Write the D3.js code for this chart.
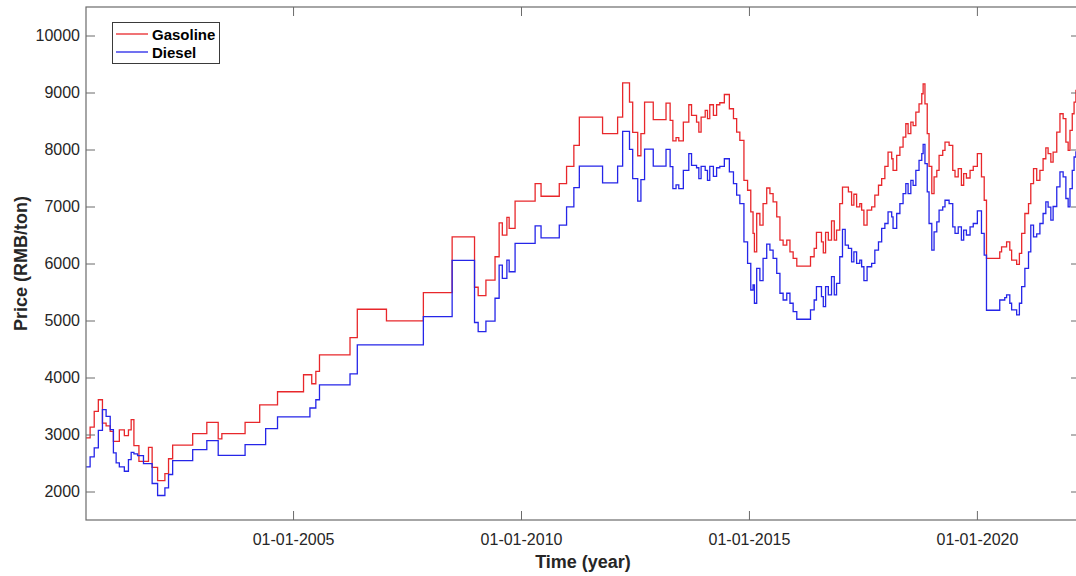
<!DOCTYPE html>
<html>
<head>
<meta charset="utf-8">
<script src="https://cdn.jsdelivr.net/npm/d3@7"></script>
<style>
  html, body { margin: 0; padding: 0; background: #fff; }
  svg { display: block; }
  text { font-family: "Liberation Sans", Arial, Helvetica, sans-serif; }
</style>
</head>
<body>
<svg id="chart" width="1076" height="576"></svg>
<script>
// ---- data (decimal years of price adjustments, prices in RMB/ton) ----
const years = [
2000.46, 2000.55, 2000.64, 2000.73, 2000.82, 2000.90, 2000.99, 2001.06, 2001.12, 2001.19,
2001.30, 2001.39, 2001.45, 2001.51, 2001.59, 2001.62, 2001.72, 2001.83, 2001.91, 2002.03,
2002.19, 2002.27, 2002.36, 2002.80, 2003.11, 2003.36, 2003.44, 2003.95, 2004.27, 2004.40,
2004.66, 2005.23, 2005.37, 2005.41, 2005.50, 2005.58, 2006.25, 2006.41, 2007.05, 2007.86,
2008.49, 2008.98, 2009.06, 2009.23, 2009.43, 2009.52, 2009.59, 2009.69, 2009.74, 2009.87,
2010.31, 2010.44, 2010.84, 2011.00, 2011.16, 2011.28, 2011.79, 2012.12, 2012.23, 2012.38,
2012.45, 2012.56, 2012.63, 2012.71, 2012.90, 2013.18, 2013.27, 2013.33, 2013.40, 2013.46,
2013.56, 2013.68, 2013.74, 2013.85, 2013.90, 2013.95, 2014.04, 2014.09, 2014.14, 2014.22,
2014.29, 2014.36, 2014.46, 2014.57, 2014.66, 2014.73, 2014.80, 2014.89, 2014.97, 2015.04,
2015.09, 2015.12, 2015.17, 2015.24, 2015.31, 2015.39, 2015.46, 2015.53, 2015.61, 2015.68,
2015.75, 2015.83, 2015.90, 2015.97, 2016.05, 2016.35, 2016.43, 2016.48, 2016.59, 2016.63,
2016.68, 2016.74, 2016.81, 2016.87, 2016.92, 2016.99, 2017.05, 2017.11, 2017.18, 2017.25,
2017.30, 2017.36, 2017.43, 2017.47, 2017.52, 2017.59, 2017.69, 2017.76, 2017.84, 2017.91,
2017.98, 2018.05, 2018.13, 2018.16, 2018.24, 2018.31, 2018.38, 2018.44, 2018.49, 2018.55,
2018.60, 2018.66, 2018.73, 2018.79, 2018.82, 2018.86, 2018.91, 2018.95, 2019.01, 2019.06,
2019.12, 2019.17, 2019.25, 2019.30, 2019.39, 2019.47, 2019.52, 2019.59, 2019.66, 2019.71,
2019.77, 2019.85, 2019.92, 2020.01, 2020.10, 2020.16, 2020.21, 2020.50, 2020.54, 2020.61,
2020.65, 2020.72, 2020.76, 2020.87, 2020.93, 2020.98, 2021.05, 2021.13, 2021.18, 2021.24,
2021.31, 2021.38, 2021.45, 2021.51, 2021.56, 2021.62, 2021.67, 2021.75, 2021.82, 2021.89,
2021.95, 2022.00, 2022.04, 2022.09, 2022.13, 2022.17
];

const gasoline = [
2940, 3130, 3405, 3610, 3200, 3150, 3055, 2880, 2880, 3080,
2980, 3080, 3260, 2805, 2805, 2530, 2530, 2775, 2425, 2190,
2315, 2575, 2815, 3015, 3213, 2922, 3015, 3213, 3520, 3520,
3750, 4048, 4048, 3890, 4107, 4397, 4700, 5197, 4993, 5488,
6468, 5583, 5436, 5710, 6118, 6713, 6497, 6810, 6615, 7093,
7402, 7180, 7402, 7705, 8073, 8568, 8277, 8568, 9170, 8832,
8300, 7890, 8277, 8832, 8523, 8815, 8510, 8150, 8210, 8150,
8480, 8785, 8598, 8480, 8305, 8568, 8685, 8540, 8785, 8600,
8785, 8820, 8965, 8715, 8540, 8305, 8160, 7460, 7285, 6905,
6527, 6205, 6877, 6673, 7052, 7325, 7227, 7080, 6818, 6410,
6323, 6410, 6205, 6090, 5955, 6118, 6265, 6545, 6380, 6188,
6545, 6410, 6748, 6410, 6585, 7052, 7340, 7340, 7255, 7023,
7215, 6993, 7050, 6935, 6673, 6935, 6993, 7198, 7373, 7490,
7705, 7955, 7838, 7635, 7898, 8043, 8218, 8452, 8277, 8480,
8420, 8655, 8800, 8978, 9153, 8800, 8277, 7705, 7227, 7518,
7635, 7898, 7985, 8130, 8073, 7635, 7518, 7665, 7373, 7577,
7500, 7635, 7705, 7927, 7518, 7110, 6090, 6205, 6293, 6293,
6380, 6235, 6060, 5985, 6177, 6527, 6877, 7052, 7402, 7665,
7460, 7635, 7838, 8030, 7927, 7780, 7955, 8305, 8627, 8540,
8130, 7985, 8335, 8627, 8832, 9035
];

const diesel = [
2432, 2607, 2765, 3073, 3435, 3318, 3085, 2677, 2502, 2432,
2355, 2560, 2688, 2660, 2630, 2630, 2490, 2490, 2140, 1930,
2065, 2298, 2542, 2735, 2892, 2635, 2635, 2822, 2822, 3102,
3310, 3310, 3465, 3465, 3610, 3872, 4065, 4573, 4573, 5067,
6055, 4965, 4805, 4990, 5390, 5973, 5740, 6060, 5855, 6353,
6660, 6450, 6673, 6993, 7330, 7710, 7415, 7710, 8318, 8003,
7490, 7093, 7470, 8008, 7710, 8003, 7700, 7315, 7380, 7315,
7635, 7927, 7723, 7680, 7490, 7705, 7635, 7460, 7705, 7530,
7680, 7705, 7838, 7607, 7402, 7198, 7052, 6380, 6002, 5535,
5623, 5303, 5915, 5698, 6090, 6340, 6235, 6090, 5828, 5478,
5360, 5478, 5303, 5155, 5022, 5185, 5360, 5593, 5418, 5243,
5593, 5448, 5768, 5448, 5652, 6118, 6597, 6323, 6265, 6030,
6205, 6002, 6060, 5943, 5698, 5943, 6002, 6235, 6380, 6615,
6702, 6905, 6818, 6615, 6877, 7052, 7227, 7402, 7227, 7460,
7370, 7635, 7810, 7927, 8090, 7752, 7255, 6702, 6235, 6555,
6730, 6935, 6993, 7110, 7052, 6643, 6527, 6643, 6410, 6585,
6500, 6643, 6702, 6922, 6527, 6148, 5180, 5360, 5360, 5400,
5448, 5303, 5185, 5098, 5303, 5593, 5915, 6205, 6673, 6468,
6520, 6702, 6877, 7080, 6990, 6760, 7000, 7343, 7607, 7518,
7140, 6993, 7315, 7635, 7868, 7960
];

const seriesNames = ["Gasoline", "Diesel"];
const seriesColors = ["#e8272b", "#2525e8"];
const yTicks = [2000, 3000, 4000, 5000, 6000, 7000, 8000, 9000, 10000];
const xTickDates = ["2005-01-01", "2010-01-01", "2015-01-01", "2020-01-01"];
const xTickLabels = ["01-01-2005", "01-01-2010", "01-01-2015", "01-01-2020"];
const xDomainYears = [2000.46, 2022.26];
const yDomain = [1500, 10500];

// ---- helpers ----
function yearToDate(t) {
  const y = Math.floor(t);
  const s = Date.UTC(y, 0, 1), e = Date.UTC(y + 1, 0, 1);
  return new Date(s + (t - y) * (e - s));
}

// ---- layout ----
const svg = d3.select("#chart");
const L = 86, R = 1080, T = 7, B = 520;
const axisColor = "#6b6b6b";
const textColor = "#262626";

const x = d3.scaleUtc().domain(xDomainYears.map(yearToDate)).range([L, R]);
const y = d3.scaleLinear().domain(yDomain).range([B, T]);

const tickDates = xTickDates.map(d => new Date(d + "T00:00:00Z"));

// plot area clip
svg.append("defs").append("clipPath").attr("id", "clip")
  .append("rect").attr("x", L).attr("y", T).attr("width", R - L).attr("height", B - T);

// ---- lines ----
const endDate = yearToDate(xDomainYears[1]);
[gasoline, diesel].forEach((vals, i) => {
  const pts = years.map((t, k) => ({ d: yearToDate(t), v: vals[k] }));
  pts.push({ d: endDate, v: vals[vals.length - 1] });
  const line = d3.line().x(p => x(p.d)).y(p => y(p.v)).curve(d3.curveStepAfter);
  svg.append("path")
    .datum(pts)
    .attr("clip-path", "url(#clip)")
    .attr("fill", "none")
    .attr("stroke", seriesColors[i])
    .attr("stroke-width", 1.3)
    .attr("d", line);
});

// ---- axes (MATLAB style: ticks inside, box) ----
const tickLen = 9;
const axBottom = svg.append("g").attr("transform", `translate(0,${B})`)
  .call(d3.axisBottom(x).tickValues(tickDates).tickSize(-tickLen).tickPadding(14)
        .tickFormat((d, i) => xTickLabels[i]));
const axLeft = svg.append("g").attr("transform", `translate(${L},0)`)
  .call(d3.axisLeft(y).tickValues(yTicks).tickSize(-tickLen).tickPadding(6)
        .tickFormat(d3.format("d")));
const axTop = svg.append("g").attr("transform", `translate(0,${T})`)
  .call(d3.axisTop(x).tickValues(tickDates).tickSize(-tickLen).tickFormat(""));
const axRight = svg.append("g").attr("transform", `translate(${R},0)`)
  .call(d3.axisRight(y).tickValues(yTicks).tickSize(-tickLen).tickFormat(""));

[axBottom, axLeft, axTop, axRight].forEach(g => {
  g.select(".domain").attr("stroke", axisColor).attr("stroke-width", 1.2);
  g.selectAll(".tick line").attr("stroke", axisColor).attr("stroke-width", 1);
  g.selectAll(".tick text").attr("fill", textColor)
    .style("font-size", "16px")
    .style("font-family", "'Liberation Sans', Arial, sans-serif");
});
// remove outer ticks on domains (d3 adds tickSizeOuter); replace with plain lines
[axBottom, axLeft, axTop, axRight].forEach(g => g.select(".domain").remove());
svg.append("rect").attr("x", L).attr("y", T).attr("width", R - L).attr("height", B - T)
  .attr("fill", "none").attr("stroke", axisColor).attr("stroke-width", 1.2);

// ---- axis titles ----
svg.append("text")
  .attr("x", (L + R) / 2).attr("y", 568)
  .attr("text-anchor", "middle")
  .attr("fill", textColor)
  .style("font-size", "18px").style("font-weight", "bold")
  .text("Time (year)");

svg.append("text")
  .attr("transform", `translate(27,${(T + B) / 2}) rotate(-90)`)
  .attr("text-anchor", "middle")
  .attr("fill", textColor)
  .style("font-size", "18px").style("font-weight", "bold")
  .text("Price (RMB/ton)");

// ---- legend ----
const lg = svg.append("g");
lg.append("rect").attr("x", 112.5).attr("y", 22.5).attr("width", 107).attr("height", 41)
  .attr("fill", "#fff").attr("stroke", "#3a3a3a").attr("stroke-width", 1);
seriesNames.forEach((name, i) => {
  const cy = 34 + i * 18;
  lg.append("line").attr("x1", 116).attr("x2", 148).attr("y1", cy).attr("y2", cy)
    .attr("stroke", seriesColors[i]).attr("stroke-width", 1.3);
  lg.append("text").attr("x", 152).attr("y", cy + 5.5)
    .attr("fill", "#000")
    .style("font-size", "15px").style("font-weight", "bold")
    .text(name);
});
</script>
</body>
</html>
